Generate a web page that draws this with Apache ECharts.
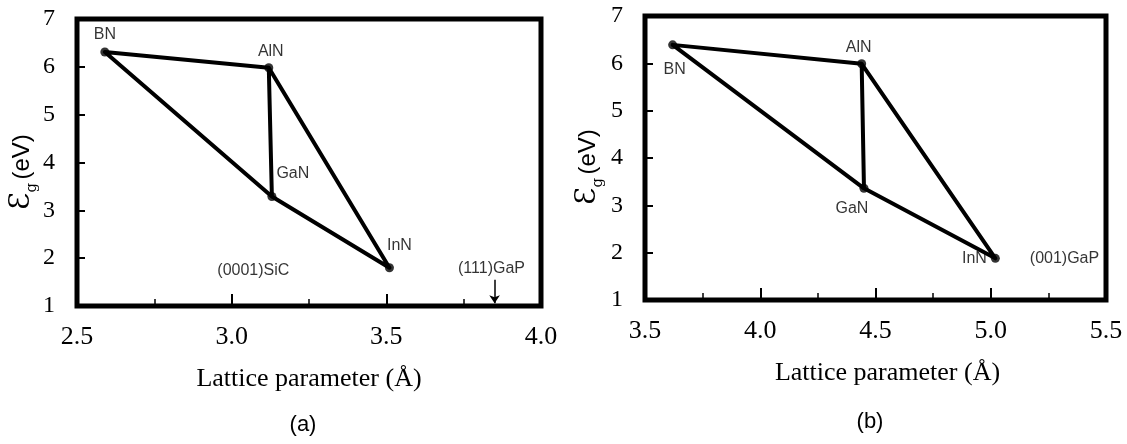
<!DOCTYPE html>
<html><head><meta charset="utf-8">
<script src="https://cdn.jsdelivr.net/npm/echarts@6/dist/echarts.min.js"></script>
<style>html,body{margin:0;padding:0;background:#fff}#c{width:1127px;height:444px}</style>
</head><body><div id="c"></div>
<script>
// ---- data ----
const compounds = ['BN', 'AlN', 'GaN', 'InN'];
const latticeA = [2.59, 3.12, 3.13, 3.51];   // panel (a) lattice parameter (Å)
const gapA     = [6.31, 5.98, 3.29, 1.80];   // panel (a) band gap (eV)
const latticeB = [3.62, 4.44, 4.45, 5.02];   // panel (b) lattice parameter (Å)
const gapB     = [6.39, 5.99, 3.36, 1.88];   // panel (b) band gap (eV)
const edgePath = ['AlN', 'BN', 'GaN', 'InN', 'AlN', 'GaN'];
const xRangeA = [2.5, 4.0];
const xRangeB = [3.5, 5.5];
const yRange = [1, 7];
const substrateNamesA = ['(0001)SiC', '(111)GaP'];
const substrateXA = [3.07, 3.84];
const substrateYA = [1.75, 1.79];
const substrateNamesB = ['(001)GaP'];
const substrateXB = [5.32];
const substrateYB = [1.88];
const gapArrowA = [3.85, 1.55, 1.06]; // x, from, to
const xTitle = 'Lattice parameter (Å)';
const panelTags = ['(a)', '(b)'];

// ---- styles ----
const SERIF = '"Liberation Serif", "Times New Roman", serif';
const SANS = '"Liberation Sans", Arial, sans-serif';
const labA = {
  BN:  {position: 'top', distance: 5},
  AlN: {position: 'top', distance: 4, offset: [2, 0]},
  GaN: {position: 'right', distance: 0, offset: [0, -23]},
  InN: {position: 'top', distance: 10, offset: [10, 0]}
};
const labB = {
  BN:  {position: 'bottom', distance: 12, offset: [2, 0]},
  AlN: {position: 'top', distance: 4, offset: [-3, 0]},
  GaN: {position: 'bottom', distance: 8, offset: [-12, 0]},
  InN: {position: 'left', distance: 4}
};

function xAxisCfg(range, gridIndex, pad) {
  return {
    type: 'value', gridIndex, min: range[0], max: range[1], interval: 0.5,
    axisLine: {show: false},
    axisTick: {show: true, inside: true, length: 12, lineStyle: {color: '#000', width: 2}},
    minorTick: {show: true, splitNumber: 2, length: 7, lineStyle: {color: '#000', width: 1.5}},
    splitLine: {show: false}, minorSplitLine: {show: false},
    axisLabel: {color: '#000', fontFamily: SERIF, fontSize: 26, margin: 18,
      formatter: v => v.toFixed(1)},
    name: xTitle, nameLocation: 'middle', nameGap: 60,
    nameTextStyle: {color: '#000', fontFamily: SERIF, fontSize: 26, padding: pad}
  };
}
function yAxisCfg(gridIndex) {
  return {
    type: 'value', gridIndex, min: yRange[0], max: yRange[1], interval: 1,
    axisLine: {show: false},
    axisTick: {show: true, inside: true, length: 8, lineStyle: {color: '#000', width: 2}},
    splitLine: {show: false},
    axisLabel: {color: '#000', fontFamily: SERIF, fontSize: 24, margin: 22}
  };
}
function edgeData(xs, ys) {
  return edgePath.map(n => { const i = compounds.indexOf(n); return [xs[i], ys[i]]; });
}
function vertexData(xs, ys, lab) {
  return compounds.map((n, i) => ({
    value: [xs[i], ys[i]], name: n,
    label: Object.assign({show: true, formatter: n, color: '#000', fontFamily: SANS, fontSize: 16}, lab[n])
  }));
}
function annoData(names, xs, ys) {
  return names.map((n, i) => ({value: [xs[i], ys[i]], name: n}));
}
const yTitleRich = {
  e: {fontFamily: '"DejaVu Serif", serif', fontSize: 28, fill: '#000'},
  g: {fontFamily: '"DejaVu Serif", serif', fontSize: 15, verticalAlign: 'bottom', fill: '#000', padding: [0, 0, -4, 0]},
  u: {fontFamily: SANS, fontSize: 24, fill: '#000'}
};

const option = {
  backgroundColor: '#fff',
  animation: false,
  grid: [
    {left: 77, top: 19, width: 464, height: 287, show: true, borderWidth: 5, borderColor: '#000', backgroundColor: 'transparent'},
    {left: 645, top: 16, width: 461, height: 284, show: true, borderWidth: 5, borderColor: '#000', backgroundColor: 'transparent'}
  ],
  xAxis: [xAxisCfg(xRangeA, 0, [0, 0, 0, 0]), xAxisCfg(xRangeB, 1, [0, 0, 0, 24])],
  yAxis: [yAxisCfg(0), yAxisCfg(1)],
  series: [
    {type: 'line', xAxisIndex: 0, yAxisIndex: 0, data: edgeData(latticeA, gapA), symbol: 'none',
      lineStyle: {color: '#000', width: 4, cap: 'round', join: 'round'}, z: 3},
    {type: 'scatter', xAxisIndex: 0, yAxisIndex: 0, data: vertexData(latticeA, gapA, labA),
      symbolSize: 9, itemStyle: {color: '#000'}, z: 4},
    {type: 'scatter', xAxisIndex: 0, yAxisIndex: 0, data: annoData(substrateNamesA, substrateXA, substrateYA),
      symbolSize: 0, label: {show: true, position: 'inside', formatter: '{b}', color: '#000', fontFamily: SANS, fontSize: 16},
      markLine: {silent: true, symbol: ['none', 'arrow'], symbolSize: 8,
        lineStyle: {color: '#000', width: 1.5, type: 'solid'}, label: {show: false},
        data: [[{coord: [gapArrowA[0], gapArrowA[1]]}, {coord: [gapArrowA[0], gapArrowA[2]]}]]}},
    {type: 'line', xAxisIndex: 1, yAxisIndex: 1, data: edgeData(latticeB, gapB), symbol: 'none',
      lineStyle: {color: '#000', width: 4, cap: 'round', join: 'round'}, z: 3},
    {type: 'scatter', xAxisIndex: 1, yAxisIndex: 1, data: vertexData(latticeB, gapB, labB),
      symbolSize: 9, itemStyle: {color: '#000'}, z: 4},
    {type: 'scatter', xAxisIndex: 1, yAxisIndex: 1, data: annoData(substrateNamesB, substrateXB, substrateYB),
      symbolSize: 0, label: {show: true, position: 'inside', formatter: '{b}', color: '#000', fontFamily: SANS, fontSize: 16}}
  ],
  graphic: [
    {type: 'text', x: 22, y: 172, rotation: Math.PI / 2,
      style: {text: '{e|Ɛ}{g|g} {u|(eV)}', align: 'center', verticalAlign: 'middle', fill: '#000', rich: yTitleRich}},
    {type: 'text', x: 588, y: 167, rotation: Math.PI / 2,
      style: {text: '{e|Ɛ}{g|g} {u|(eV)}', align: 'center', verticalAlign: 'middle', fill: '#000', rich: yTitleRich}},
    {type: 'text', x: 303, y: 425, style: {text: panelTags[0], align: 'center', verticalAlign: 'middle', fill: '#000', fontFamily: SANS, fontSize: 22}},
    {type: 'text', x: 870, y: 422, style: {text: panelTags[1], align: 'center', verticalAlign: 'middle', fill: '#000', fontFamily: SANS, fontSize: 22}}
  ]
};
const chart = echarts.init(document.getElementById('c'), null, {renderer: 'canvas'});
chart.setOption(option);
</script>
</body></html>
